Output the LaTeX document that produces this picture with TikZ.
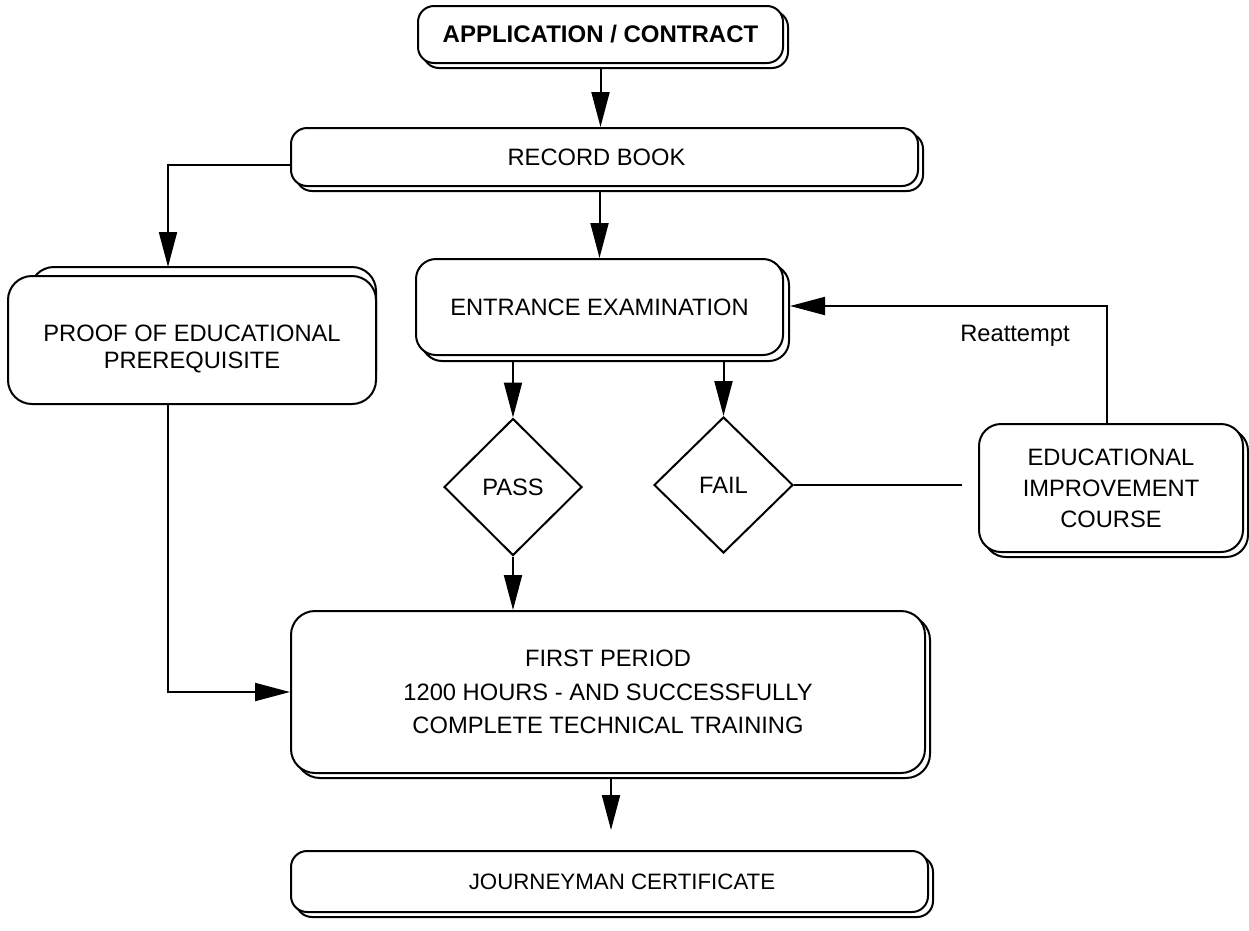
\documentclass[tikz,border=0pt]{standalone}
\usepackage{fontspec}
\setmainfont{Liberation Sans}
\usetikzlibrary{shapes.geometric,arrows.meta,shadows,calc}
\begin{document}
\begin{tikzpicture}[x=1pt,y=-1pt,
  every node/.style={font=\fontsize{23.7}{31}\selectfont},
  box/.style={draw,line width=2pt,fill=white,rounded corners=16pt,inner sep=0pt,align=center,
    copy shadow={shadow xshift=5pt,shadow yshift=-5pt}},
  bigbox/.style={box,rounded corners=24pt},
  dia/.style={draw,line width=2pt,fill=white,diamond,aspect=1,inner sep=0pt},
  arr/.style={line width=2pt,-{Triangle[length=35pt,width=18pt]}},
  con/.style={line width=2pt}]
\useasboundingbox (0,0) rectangle (1249,930);
% nodes
\node[box,minimum width=365pt,minimum height=57pt,font=\fontsize{24}{28}\selectfont\bfseries] (app) at (600.5,34.5) {APPLICATION / CONTRACT};
\node[box,minimum width=627pt,minimum height=58pt] (rec) at (604.5,157) {RECORD BOOK\hspace*{16pt}};
\node[box,rounded corners=20pt,minimum width=367pt,minimum height=96pt,copy shadow={shadow xshift=6pt,shadow yshift=-6pt}] (ent) at (599.5,307) {ENTRANCE EXAMINATION};
% proof box with back copy
\draw[line width=2pt,fill=white,rounded corners=24pt] (30,267) rectangle (376,395);
\node[draw,line width=2pt,fill=white,rounded corners=24pt,inner sep=0pt,align=center,minimum width=368pt,minimum height=128pt,font=\fontsize{23.7}{27}\selectfont] (proof) at (192,340) {\rule{0pt}{35pt}PROOF OF EDUCATIONAL\\PREREQUISITE};
\node[dia,minimum width=138pt,minimum height=137pt] (pass) at (513,487) {PASS};
\node[dia,minimum width=139pt,minimum height=136pt] (fail) at (723.5,485) {FAIL};
\node[bigbox,rounded corners=22pt,minimum width=264pt,minimum height=128pt,font=\fontsize{23.7}{31}\selectfont] (eic) at (1111,488) {EDUCATIONAL\\IMPROVEMENT\\COURSE};
\node[bigbox,minimum width=634pt,minimum height=162pt,font=\fontsize{23.7}{33.5}\selectfont] (first) at (608,692) {FIRST PERIOD\\1200 HOURS - AND SUCCESSFULLY\\COMPLETE TECHNICAL TRAINING};
\node[box,minimum width=637pt,minimum height=61pt,font=\fontsize{22.3}{27}\selectfont] (jour) at (609.5,881.5) {\hspace*{25pt}JOURNEYMAN CERTIFICATE};
\node (reat) at (1015,336) {Reattempt};
% coordinates
\coordinate (pin) at (168,267);
\coordinate (failend) at (962,485);
\coordinate (jin) at (611,830);
% connectors
\draw[arr] ($(app.south)+(0,5)$) -- (app.south |- rec.north);
\draw[arr] ($(rec.west)+(0,8)$) -| (pin);
\draw[arr] ($(ent.north |- rec.south)+(0,5)$) -- (ent.north);
\draw[arr] ($(pass.north |- ent.south)+(0,6)$) -- (pass.north);
\draw[arr] ($(fail.north |- ent.south)+(0,6)$) -- (fail.north);
\draw[arr] (pass.south) -- (pass.south |- first.north);
\draw[con] (fail.east) -- (failend);
\draw[arr] ($(eic.north)+(-4,0)$) |- ($(ent.east)+(6,-1)$);
\draw[arr] (pin |- proof.south) |- (first.west);
\draw[arr] ($(jin |- first.south)+(0,5)$) -- (jin);
\end{tikzpicture}
\end{document}
